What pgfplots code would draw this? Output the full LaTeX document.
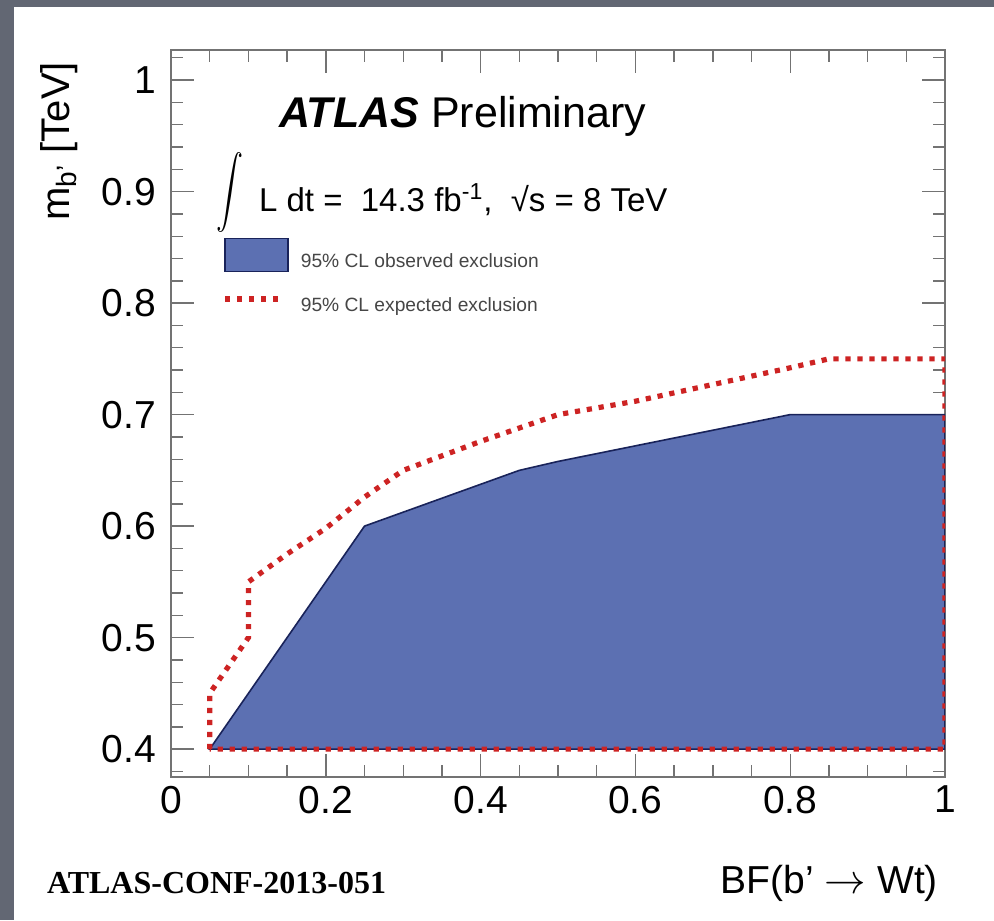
\documentclass[border=0pt]{standalone}
\usepackage{graphicx}
\usepackage{pgfplots}
\pgfplotsset{compat=1.18}
\usepackage{fontspec}
\setmainfont{Liberation Sans}
\newfontfamily\timesfont{Liberation Serif}
\definecolor{bgray}{RGB}{98,103,115}
\definecolor{obsblue}{RGB}{92,112,178}
\definecolor{obsline}{RGB}{25,35,90}
\definecolor{expred}{RGB}{205,35,35}
\definecolor{framegray}{RGB}{115,115,115}
\definecolor{legtext}{RGB}{70,70,70}
\pgfplotsset{
  obslegend/.style={legend image code/.code={\draw[##1] (0pt,-4.75pt) rectangle (31.5pt,11.75pt);}},
  explegend/.style={legend image code/.code={\draw[##1] (0pt,3.5pt) -- (27.5pt,3.5pt);}},
}
\begin{document}
\begin{tikzpicture}[x=0.5pt,y=0.5pt]
\fill[bgray] (0,0) rectangle (994,920);
\fill[white] (14,0) rectangle (994,913);
\path[use as bounding box] (0,0) rectangle (994,920);
\begin{axis}[
  at={(85.5pt,71.5pt)}, anchor=south west,
  scale only axis, width=387pt, height=363.5pt,
  xmin=0, xmax=1, ymin=0.375, ymax=1.027,
  xtick={0,0.2,0.4,0.6,0.8,1},
  ytick={0.4,0.5,0.6,0.7,0.8,0.9,1},
  minor xtick={0.05,0.1,0.15,0.25,0.3,0.35,0.45,0.5,0.55,0.65,0.7,0.75,0.85,0.9,0.95},
  minor ytick={0.38,0.42,0.44,0.46,0.48,0.52,0.54,0.56,0.58,0.62,0.64,0.66,0.68,0.72,0.74,0.76,0.78,0.82,0.84,0.86,0.88,0.92,0.94,0.96,0.98,1.02},
  tick align=inside, xtick pos=both, ytick pos=both,
  major tick length=11.5pt, minor tick length=6pt,
  axis line style={framegray, line width=0.9pt},
  every tick/.style={framegray, line width=0.7pt},
  tick label style={font=\fontsize{19.5}{20}\selectfont},
  /pgf/number format/assume math mode=true,
  yticklabel style={xshift=-4pt},
  xticklabel style={yshift=-1pt},
  legend style={at={(axis cs:0.066,0.859)}, anchor=north west, draw=none, fill=none,
    inner sep=0pt, row sep=12pt, font=\fontsize{9.6}{11}\selectfont\color{legtext},
    nodes={inner sep=0pt},
    /tikz/every odd column/.append style={column sep=6pt}},
  legend cell align=left,
]
\addplot[fill=obsblue, draw=obsline, line width=0.8pt, obslegend]
  coordinates {(0.05,0.4) (0.1,0.45) (0.25,0.6) (0.3,0.6125) (0.45,0.65) (0.5,0.658) (0.6,0.672) (0.7,0.686) (0.8,0.7) (1,0.7) (1,0.4)} -- cycle;
\addlegendentry{95\% CL observed exclusion}
\addplot[expred, line width=2.6pt, dash pattern=on 2.6pt off 3.4pt, explegend]
  coordinates {(0.05,0.4) (0.05,0.45) (0.1,0.5) (0.1,0.55) (0.15,0.575) (0.2,0.598) (0.25,0.626) (0.3,0.65) (0.4,0.676) (0.5,0.7) (0.6,0.712) (0.7,0.727) (0.8,0.742) (0.85,0.75) (1,0.75) (1,0.4) (0.05,0.4)};
\addlegendentry{95\% CL expected exclusion}
\end{axis}
\node[anchor=base west, font=\fontsize{21.5}{22}\selectfont] at (272,792) {\textbf{\textit{ATLAS}} Preliminary};
\node at (230,727) {\scalebox{1.35}[1.8]{$\displaystyle\int$}};
\node[anchor=base west, font=\fontsize{16.5}{18}\selectfont] at (252,708) {L dt =\ \ 14.3 fb\textsuperscript{-1},\ \ √s = 8 TeV};
\node[rotate=90, anchor=base east, font=\fontsize{20}{20}\selectfont] at (70,865) {m\textsubscript{b’} [TeV]};
\node[anchor=base east, font=\fontsize{19.5}{20}\selectfont] at (945,27) {BF(b’ $\rightarrow$ Wt)};
\node[anchor=base west, font=\timesfont\bfseries\fontsize{16}{16}\selectfont] at (40,27) {ATLAS-CONF-2013-051};
\end{tikzpicture}
\end{document}
